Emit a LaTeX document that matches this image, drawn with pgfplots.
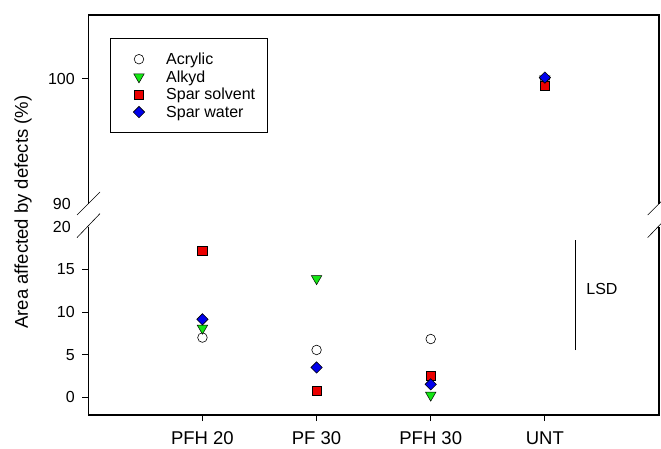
\documentclass[border=0pt]{standalone}
\usepackage{pgfplots}
\pgfplotsset{compat=1.18}
\usepackage{fontspec}
\setmainfont{Liberation Sans}
\definecolor{mgreen}{RGB}{20,230,20}
\definecolor{mred}{RGB}{235,0,0}
\definecolor{mblue}{RGB}{0,0,235}
\begin{document}
\begin{tikzpicture}
\path[use as bounding box] (0,0) rectangle (661pt,448pt);
\pgfplotsset{
  common/.style={
    scale only axis, width=570.7pt, xmin=-1, xmax=4,
    axis line style={draw=none}, clip=false,
    tick align=outside, tick pos=left,
    major tick length=6pt,
    every tick/.style={black, line width=0.9pt},
    /pgf/number format/assume math mode=true,
    yticklabel style={font=\fontsize{16}{19}\selectfont, anchor=east, xshift=-4pt},
    xticklabel style={font=\fontsize{18.5}{22}\selectfont, yshift=-7pt},
    extra y tick style={major tick length=0pt, yticklabel style={xshift=-10pt}},
  },
  acr/.style={only marks, mark=*, mark size=4.8pt, mark options={fill=white, draw=black, line width=0.6pt}},
  alk/.style={only marks, mark=triangle*, mark size=6pt, mark options={rotate=180, fill=mgreen, draw=black, line width=0.5pt}},
  sps/.style={only marks, mark=square*, mark size=4.7pt, mark options={fill=mred, draw=black, line width=0.6pt}},
  spw/.style={only marks, mark=square*, mark size=4pt, mark options={rotate=45, fill=mblue, draw=black, line width=0.6pt}},
}
% lower axis
\begin{axis}[common, at={(88.3pt,33pt)}, anchor=south west, height=188.4pt,
  ymin=-2.07, ymax=20, ytick={0,5,10,15}, extra y ticks={20},
  xtick={0,1,2,3}, xticklabels={PFH 20, PF 30, PFH 30, UNT}]
\addplot[acr] coordinates {(0,7.0) (1,5.55) (2,6.83)};
\addplot[alk] coordinates {(0,8.1) (1,13.9) (2,0.25)};
\addplot[sps] coordinates {(0,17.15) (1,0.78) (2,2.54)};
\addplot[spw] coordinates {(0,9.14) (1,3.5) (2,1.52)};
\addplot[black, line width=1.3pt, mark=none] coordinates {(3.27,5.54) (3.27,18.42)};
\node[font=\fontsize{16}{19}\selectfont] at (axis cs:3.5,12.7) {LSD};
\draw[line width=1.2pt] (rel axis cs:0,1) -- (rel axis cs:0,0) -- (rel axis cs:1,0) -- (rel axis cs:1,1);
\draw[line width=0.6pt] ([shift={(-11.3pt,-11pt)}]rel axis cs:0,1) -- ([shift={(11.7pt,13pt)}]rel axis cs:0,1);
\draw[line width=0.6pt] ([shift={(-11.3pt,-11pt)}]rel axis cs:1,1) -- ([shift={(11.7pt,13pt)}]rel axis cs:1,1);
\end{axis}
% upper axis
\begin{axis}[common, at={(88.3pt,244pt)}, anchor=south west, height=189pt,
  ymin=90, ymax=105.1, ytick={100}, extra y ticks={90},
  xtick=\empty,
  legend cell align=left,
  legend image code/.code={\path (0pt,0pt) (42.7pt,0pt); \draw[#1] plot coordinates {(18pt,0pt)};},
  legend style={at={(0.038,0.877)}, anchor=north west, draw=black, line width=1pt,
    font=\fontsize{16}{19}\selectfont, inner xsep=10pt, inner ysep=12pt,
    nodes={inner sep=2pt, text depth=0.13em}, column sep=0pt, row sep=0.8pt}]
\addplot[acr] coordinates {(3,100)};
\addlegendentry{Acrylic}
\addplot[alk] coordinates {(3,100)};
\addlegendentry{Alkyd}
\addplot[sps] coordinates {(3,99.45)};
\addlegendentry{Spar solvent}
\addplot[spw] coordinates {(3,100.1)};
\addlegendentry{Spar water}
\draw[line width=1.2pt] (rel axis cs:0,0) -- (rel axis cs:0,1) -- (rel axis cs:1,1) -- (rel axis cs:1,0);
\draw[line width=0.6pt] ([shift={(-11.3pt,-11pt)}]rel axis cs:0,0) -- ([shift={(11.7pt,12pt)}]rel axis cs:0,0);
\draw[line width=0.6pt] ([shift={(-11.3pt,-11pt)}]rel axis cs:1,0) -- ([shift={(11.7pt,12pt)}]rel axis cs:1,0);
\end{axis}
\node[rotate=90, font=\fontsize{18.5}{22}\selectfont] at (23pt,236pt) {Area affected by defects (\%)};
\end{tikzpicture}
\end{document}
